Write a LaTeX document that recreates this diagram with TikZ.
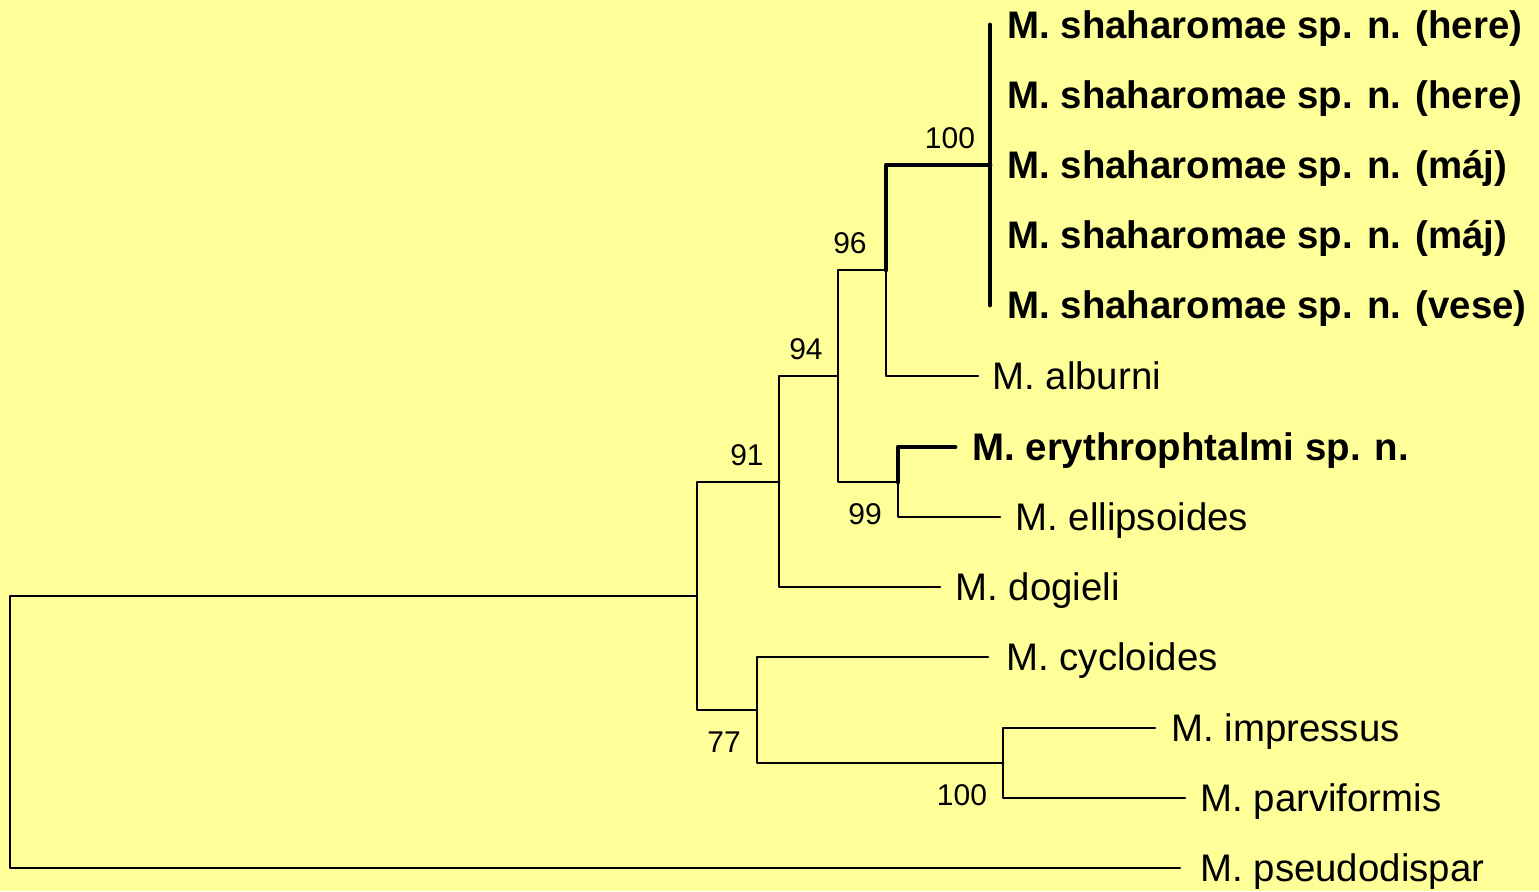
\documentclass[tikz,border=0pt]{standalone}
\usepackage{fontspec}
\setmainfont{Liberation Sans}
\definecolor{bgyellow}{HTML}{FFFF99}
\begin{document}
\begin{tikzpicture}[x=0.5pt,y=-0.5pt,
  br/.style={line width=1.4pt,line cap=round,line join=round},
  thickbr/.style={line width=2.4pt,line cap=round,line join=round},
  taxon/.style={anchor=base west,inner sep=0pt,font=\fontsize{19.2}{22}\selectfont},
  btaxon/.style={anchor=base west,inner sep=0pt,font=\fontsize{19.2}{22}\selectfont\bfseries},
  boot/.style={anchor=center,inner sep=0pt,font=\fontsize{15}{18}\selectfont}]
\fill[bgyellow] (0,0) rectangle (1539,891);
\useasboundingbox (0,0) rectangle (1539,891);
% internal nodes
\coordinate (root) at (10,732);
\coordinate (nA) at (697,596);
\coordinate (n91) at (779,482);
\coordinate (n94) at (838,376);
\coordinate (n96) at (886,270);
\coordinate (n100a) at (990,165);
\coordinate (n99) at (898,482);
\coordinate (n77) at (757,710);
\coordinate (n100b) at (1003,763);
% leaf ends
\coordinate (s1) at (990,25);
\coordinate (s5) at (990,305);
\coordinate (alb) at (978,376);
\coordinate (ery) at (955,447);
\coordinate (ell) at (1000,517);
\coordinate (dog) at (940,587);
\coordinate (cyc) at (988,657);
\coordinate (imp) at (1155,728);
\coordinate (par) at (1185,798);
\coordinate (pse) at (1180,868);
% leaf labels
\node[btaxon] (t1) at (1007,38) {M. shaharomae sp. n. (here)};
\node[btaxon] (t2) at (1007,108) {M. shaharomae sp. n. (here)};
\node[btaxon] (t3) at (1007,178) {M. shaharomae sp. n. (máj)};
\node[btaxon] (t4) at (1007,248) {M. shaharomae sp. n. (máj)};
\node[btaxon] (t5) at (1007,318) {M. shaharomae sp. n. (vese)};
\node[taxon] (talb) at (992,389) {M. alburni};
\node[btaxon] (tery) at (972,460) {M. erythrophtalmi sp. n.};
\node[taxon] (tell) at (1015,530) {M. ellipsoides};
\node[taxon] (tdog) at (955,600) {M. dogieli};
\node[taxon] (tcyc) at (1006,670) {M. cycloides};
\node[taxon] (timp) at (1171,741) {M. impressus};
\node[taxon] (tpar) at (1200,811) {M. parviformis};
\node[taxon] (tpse) at (1200,881) {M. pseudodispar};
% bootstrap values
\node[boot] (b100a) at (950,138) {100};
\node[boot] (b96) at (850,243) {96};
\node[boot] (b94) at (806,349) {94};
\node[boot] (b91) at (747,455) {91};
\node[boot] (b99) at (865,514) {99};
\node[boot] (b77) at (724,742) {77};
\node[boot] (b100b) at (962,795) {100};
% branches
\draw[br] (root) |- (nA);
\draw[br] (root) |- (pse);
\draw[br] (nA) |- (n91);
\draw[br] (nA) |- (n77);
\draw[br] (n91) |- (n94);
\draw[br] (n91) |- (dog);
\draw[br] (n94) |- (n96);
\draw[br] (n94) |- (n99);
\draw[thickbr] (n96) |- (n100a);
\draw[br] (n96) |- (alb);
\draw[thickbr] (s1) -- (s5);
\draw[thickbr] (n99) |- (ery);
\draw[br] (n99) |- (ell);
\draw[br] (n77) |- (cyc);
\draw[br] (n77) |- (n100b);
\draw[br] (n100b) |- (imp);
\draw[br] (n100b) |- (par);
\end{tikzpicture}
\end{document}
